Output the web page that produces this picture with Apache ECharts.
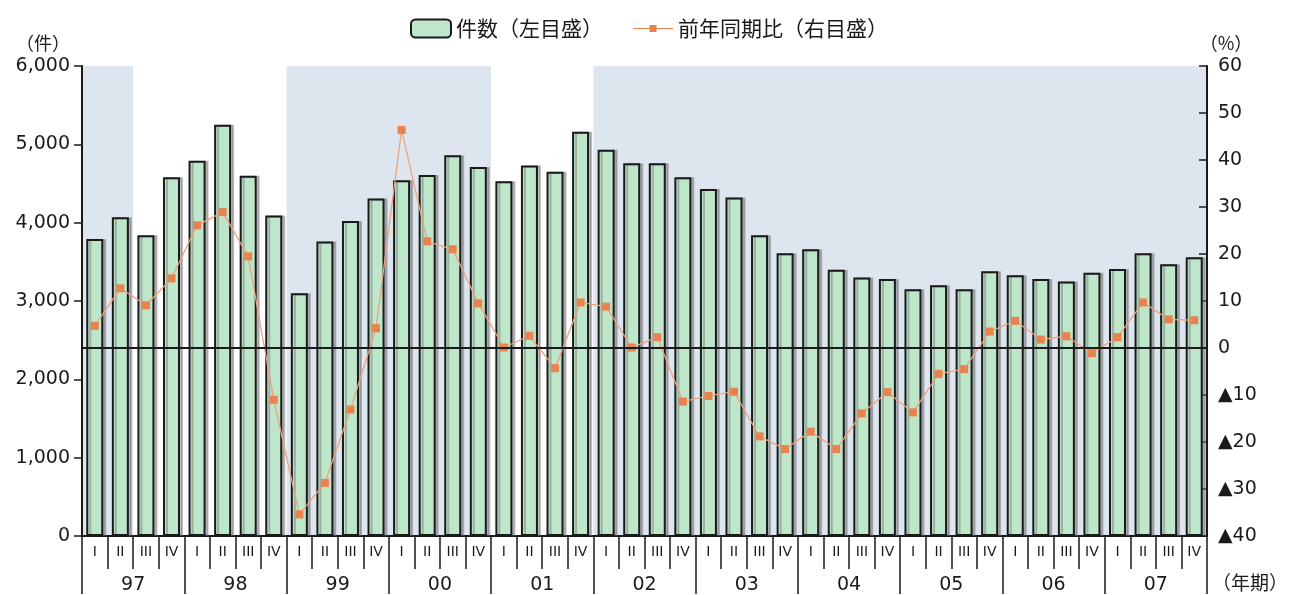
<!DOCTYPE html>
<html>
<head>
<meta charset="utf-8">
<script src="https://cdn.jsdelivr.net/npm/echarts@6/dist/echarts.min.js"></script>
<style>
  html, body { margin: 0; padding: 0; background: #ffffff; }
  #chart { width: 1294px; height: 595px; }
</style>
</head>
<body>
<div id="chart"></div>
<script>
// Calendar years (two-digit) and quarter names
const years = ['97', '98', '99', '00', '01', '02', '03', '04', '05', '06', '07'];
const quarters = ['I', 'II', 'III', 'IV'];

// Number of cases per quarter (left scale)
const counts = [
  3790, 4070, 3840, 4580,   // 97
  4790, 5250, 4600, 4090,   // 98
  3100, 3760, 4020, 4310,   // 99
  4540, 4610, 4860, 4710,   // 00
  4530, 4730, 4650, 5160,   // 01
  4930, 4760, 4760, 4580,   // 02
  4430, 4320, 3840, 3610,   // 03
  3660, 3400, 3300, 3280,   // 04
  3150, 3200, 3150, 3380,   // 05
  3330, 3280, 3250, 3360,   // 06
  3410, 3610, 3470, 3560    // 07
];

// Change from the same quarter of the previous year, % (right scale)
const yoyChange = [
  4.7, 12.7, 9.1, 14.8,
  26.1, 28.9, 19.5, -11.0,
  -35.4, -28.7, -13.1, 4.2,
  46.4, 22.7, 21.0, 9.5,
  0.1, 2.6, -4.3, 9.7,
  8.8, 0.1, 2.3, -11.4,
  -10.2, -9.3, -18.8, -21.5,
  -17.8, -21.5, -13.9, -9.4,
  -13.7, -5.5, -4.5, 3.5,
  5.8, 1.8, 2.5, -1.1,
  2.3, 9.7, 6.1, 5.9
];

// Shaded periods: [from year, from quarter, to year, to quarter]
const shadedPeriods = [
  ['97', 'I', '97', 'II'],
  ['99', 'I', '00', 'IV'],
  ['02', 'I', '07', 'IV']
];

const leftTicks = { min: 0, max: 6000, interval: 1000 };
const rightTicks = { min: -40, max: 60, interval: 10 };

const barName = '件数（左目盛）';
const lineName = '前年同期比（右目盛）';

// Derived category keys, one per quarter
const periodKeys = [];
years.forEach(y => quarters.forEach(q => periodKeys.push(y + '-' + q)));
const qIndex = (y, q) => years.indexOf(y) * 4 + quarters.indexOf(q);
const shadeData = shadedPeriods.map(p => [qIndex(p[0], p[1]), qIndex(p[2], p[3]) + 1]);

const digitFont = 'DejaVu Sans';
const cjkFont = 'Noto Sans CJK JP';
const ink = '#1a1a1a';

// Legend key for the line: thin stroke with a small square in the middle
// (tiny corner dots keep the path's box at the full 40x18 key size)
const lineKeyIcon = 'path://M0,0L0.01,0L0.01,0.01Z' +
  'M0,8.4L40,8.4L40,9.6L0,9.6Z' +
  'M16.5,5.5L23.5,5.5L23.5,12.5L16.5,12.5Z' +
  'M39.99,17.99L40,18L39.99,18Z';

const chart = echarts.init(document.getElementById('chart'), null, { renderer: 'canvas' });

chart.setOption({
  animation: false,
  backgroundColor: '#ffffff',
  grid: { left: 82, right: 87, top: 66, bottom: 58, containLabel: false },
  legend: {
    left: 405,
    top: 13,
    itemWidth: 40,
    itemHeight: 18,
    itemGap: 30,
    textStyle: { fontFamily: cjkFont, fontSize: 21, color: ink },
    data: [
      { name: barName, itemStyle: { shadowColor: 'rgba(0,0,0,0)', borderWidth: 2 } },
      { name: lineName, icon: lineKeyIcon, itemStyle: { color: '#e9824f' } }
    ]
  },
  xAxis: [
    {
      type: 'category',
      position: 'bottom',
      data: periodKeys,
      boundaryGap: true,
      axisLine: { show: true, onZero: false, lineStyle: { color: ink, width: 2 } },
      axisTick: { show: true, interval: 0, length: 33, lineStyle: { color: ink, width: 1.5 } },
      axisLabel: {
        interval: 0,
        margin: 9,
        fontFamily: digitFont,
        fontSize: 14,
        color: ink,
        formatter: v => v.split('-')[1]
      },
      splitLine: { show: false }
    },
    {
      type: 'category',
      position: 'bottom',
      data: years,
      boundaryGap: true,
      axisLine: { show: false, onZero: false },
      axisTick: { show: true, interval: 0, length: 58, lineStyle: { color: ink, width: 1.5 } },
      axisLabel: { interval: 0, margin: 40, fontFamily: digitFont, fontSize: 19, color: ink },
      splitLine: { show: false }
    },
    {
      type: 'value',
      min: 0,
      max: periodKeys.length,
      show: false,
      axisLine: { onZero: false }
    }
  ],
  yAxis: [
    {
      type: 'value',
      position: 'left',
      min: leftTicks.min,
      max: leftTicks.max,
      interval: leftTicks.interval,
      name: '（件）',
      nameGap: 14,
      nameTextStyle: { fontFamily: cjkFont, fontSize: 18, color: ink, align: 'center', padding: [0, 78, 0, 0] },
      axisLine: { show: true, onZero: false, lineStyle: { color: ink, width: 2 } },
      axisTick: { show: true, length: 8, lineStyle: { color: ink, width: 1.5 } },
      axisLabel: {
        margin: 12,
        fontFamily: digitFont,
        fontSize: 19,
        color: ink,
        formatter: v => v.toLocaleString('en-US')
      },
      splitLine: { show: false }
    },
    {
      type: 'value',
      position: 'right',
      min: rightTicks.min,
      max: rightTicks.max,
      interval: rightTicks.interval,
      name: '（%）',
      nameGap: 14,
      nameTextStyle: { fontFamily: cjkFont, fontSize: 18, color: ink, align: 'center', padding: [0, 0, 0, 38] },
      axisLine: { show: true, onZero: false, lineStyle: { color: ink, width: 2 } },
      axisTick: { show: true, inside: true, length: 8, lineStyle: { color: ink, width: 1.5 } },
      axisLabel: {
        margin: 11,
        fontFamily: digitFont,
        fontSize: 19,
        color: ink,
        formatter: v => (v < 0 ? '▲' + Math.abs(v) : String(v))
      },
      splitLine: { show: false }
    }
  ],
  graphic: [
    {
      type: 'text',
      left: 1212,
      top: 573,
      style: { text: '（年期）', fontFamily: cjkFont, fontSize: 19, fill: ink }
    }
  ],
  series: [
    {
      name: 'shade',
      type: 'custom',
      xAxisIndex: 2,
      yAxisIndex: 0,
      z: 0,
      silent: true,
      data: shadeData,
      renderItem: (params, api) => {
        const p0 = api.coord([api.value(0), leftTicks.max]);
        const p1 = api.coord([api.value(1), leftTicks.min]);
        return {
          type: 'rect',
          shape: { x: p0[0], y: p0[1], width: p1[0] - p0[0], height: p1[1] - p0[1] },
          style: { fill: '#dde6ef' }
        };
      }
    },
    {
      name: barName,
      type: 'bar',
      xAxisIndex: 0,
      yAxisIndex: 0,
      z: 2,
      barWidth: 17,
      data: counts,
      itemStyle: {
        color: '#bde6cb',
        borderColor: ink,
        borderWidth: 2,
        shadowColor: 'rgba(110,110,110,0.45)',
        shadowOffsetX: 3,
        shadowOffsetY: 0,
        shadowBlur: 0
      }
    },
    {
      name: lineName,
      type: 'line',
      xAxisIndex: 0,
      yAxisIndex: 1,
      z: 4,
      data: yoyChange,
      symbol: 'rect',
      symbolSize: 8,
      lineStyle: { color: '#efa27c', width: 1.3 },
      itemStyle: { color: '#e9824f' },
      markLine: {
        silent: true,
        symbol: ['none', 'none'],
        label: { show: false },
        lineStyle: { color: ink, width: 2, type: 'solid' },
        data: [{ yAxis: 0 }]
      }
    }
  ]
});
</script>
</body>
</html>
